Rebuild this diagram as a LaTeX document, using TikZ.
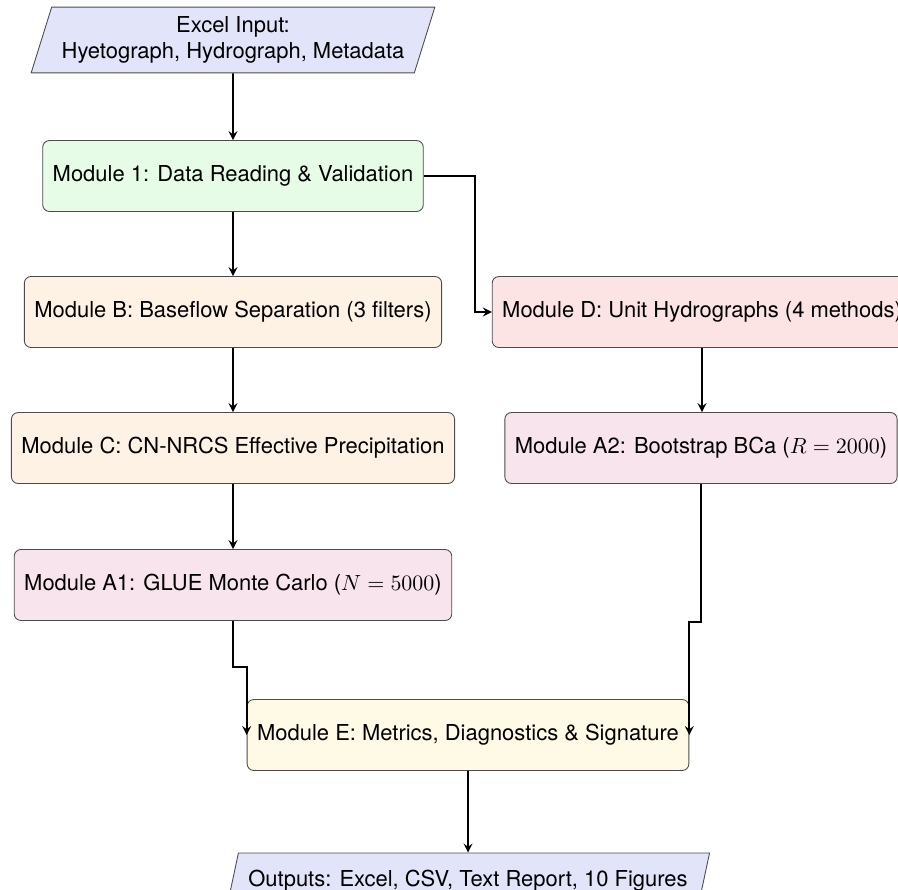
\documentclass[tikz,border=0pt]{standalone}
\usepackage{amsmath}
\usepackage{fontspec}
\setsansfont{TeX Gyre Heros}
\usepackage{tikz}
\usetikzlibrary{shapes.geometric,arrows}
\definecolor{inblue}{RGB}{226,228,250}
\definecolor{modgreen}{RGB}{230,252,230}
\definecolor{modorange}{RGB}{254,242,228}
\definecolor{modred}{RGB}{252,228,228}
\definecolor{modpink}{RGB}{248,228,236}
\definecolor{modyellow}{RGB}{254,250,230}

\begin{document}
\begin{tikzpicture}[x=0.016cm,y=-0.016cm,font=\sffamily,>=stealth,
  module/.style={rectangle,rounded corners=3pt,draw=black!70,inner xsep=4.55pt,minimum height=32.3pt},
  iobox/.style={trapezium,trapezium left angle=71.6,trapezium right angle=108.4,trapezium stretches=true,draw=black!70,inner xsep=4.55pt,align=center},
  link/.style={->,thick}]
\useasboundingbox (0,0) rectangle (898,889);
%Node Coordinates
\node at (233,40) [iobox,fill=inblue,minimum height=30pt] (In) {Excel Input:\\Hyetograph, Hydrograph, Metadata};
\node at (233,176) [module,fill=modgreen] (M1) {Module 1: Data Reading \& Validation};
\node at (233,312) [module,fill=modorange] (MB) {Module B: Baseflow Separation (3 filters)};
\node at (233,448) [module,fill=modorange] (MC) {Module C: CN-NRCS Effective Precipitation};
\node at (233,585) [module,fill=modpink] (MA1) {Module A1: GLUE Monte Carlo ($N=5000$)};
\node at (702,312) [module,fill=modred] (MD) {Module D: Unit Hydrographs (4 methods)};
\node at (701,448) [module,fill=modpink] (MA2) {Module A2: Bootstrap BCa ($R=2000$)};
\node at (468,735) [module,fill=modyellow] (ME) {Module E: Metrics, Diagnostics \& Signature};
\node at (468,881) [iobox,fill=inblue,minimum height=25.5pt] (Out) {Outputs: Excel, CSV, Text Report, 10 Figures};
%Connections
\draw [link] (In) -- (M1);
\draw [link] (M1) -- (MB);
\draw [link] (M1.east) -- ++(51,0) |- (MD.west);
\draw [link] (MB) -- (MC);
\draw [link] (MC) -- (MA1);
\draw [link] (MD.south) -- (MD.south |- MA2.north);
\draw [link] (MA1.south) -- ++(0,46) -| (ME.west);
\draw [link] (MA2.south) -- ++(0,138) -| (ME.east);
\draw [link] (ME) -- (Out);
\end{tikzpicture}
\end{document}
